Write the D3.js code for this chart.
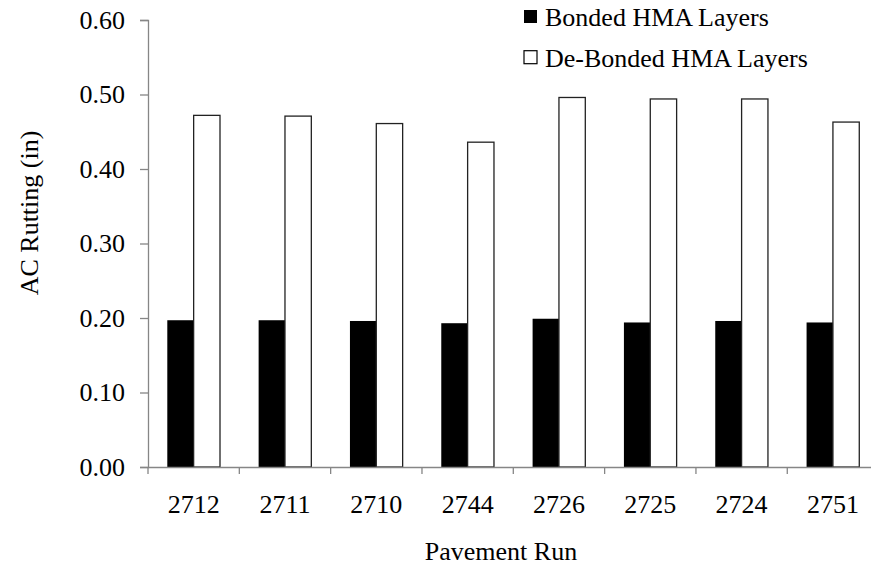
<!DOCTYPE html>
<html><head><meta charset="utf-8">
<script src="https://cdn.jsdelivr.net/npm/d3@7"></script>
<style>body{margin:0;background:#fff}svg text{font-family:'Liberation Serif','Times New Roman',Times,serif !important;fill:#000}</style>
</head><body>
<svg id="chart" width="871" height="569"></svg>
<script>
const categories = ["2712","2711","2710","2744","2726","2725","2724","2751"];
const seriesNames = ["Bonded HMA Layers","De-Bonded HMA Layers"];
const bonded = [0.197,0.197,0.196,0.193,0.199,0.194,0.196,0.194];
const debonded = [0.472,0.471,0.461,0.436,0.496,0.494,0.494,0.463];
const yTicks = [0,0.1,0.2,0.3,0.4,0.5,0.6];

const svg = d3.select("#chart");
const fs = 26;
const ff = "'Liberation Serif','Times New Roman',Times,serif";
const x0 = d3.scaleBand().domain(categories).range([148, 878.6]).padding(0);
const x1 = d3.scaleBand().domain(seriesNames).range([19.3, 72]).padding(0);
const y = d3.scaleLinear().domain([0,0.6]).range([467,20]);
const axisColor = "#868686";

// bars
const data = categories.map((c,i)=>({c, vals:[{s:seriesNames[0],v:bonded[i]},{s:seriesNames[1],v:debonded[i]}]}));
const g = svg.append("g");
const cg = g.selectAll("g.cat").data(data).join("g").attr("transform",d=>`translate(${x0(d.c)},0)`);
cg.selectAll("rect").data(d=>d.vals).join("rect")
  .attr("x",d=>x1(d.s)).attr("width",x1.bandwidth())
  .attr("y",d=>y(d.v)).attr("height",d=>y(0)-y(d.v))
  .attr("fill",d=>d.s===seriesNames[0]?"#000":"#fff")
  .attr("stroke",d=>d.s===seriesNames[0]?"none":"#222")
  .attr("stroke-width",1.3);

// y axis
const ya = svg.append("g").attr("transform","translate(148,0)")
  .call(d3.axisLeft(y).tickValues(yTicks).tickFormat(d3.format(".2f")).tickSizeOuter(0).tickSize(8).tickPadding(15));
ya.attr("font-family",ff).attr("font-size",fs);
ya.select(".domain").attr("stroke",axisColor).attr("stroke-width",1.3);
ya.selectAll(".tick line").attr("stroke",axisColor).attr("stroke-width",1.3);
ya.selectAll(".tick text").attr("fill","#000");

// x axis
const xa = svg.append("g").attr("transform","translate(0,467)")
  .call(d3.axisBottom(x0).tickSize(0).tickPadding(28));
xa.attr("font-family",ff).attr("font-size",fs);
xa.select(".domain").attr("stroke",axisColor).attr("stroke-width",1.3);
xa.selectAll(".tick text").attr("fill","#000");
// category boundary ticks
const bounds = categories.map(c=>x0(c)).concat([x0.range()[1]]);
svg.append("g").selectAll("line").data(bounds).join("line")
  .attr("x1",d=>d).attr("x2",d=>d).attr("y1",467).attr("y2",474)
  .attr("stroke",axisColor).attr("stroke-width",1.3);

// axis titles
svg.append("text").attr("transform","translate(38,213) rotate(-90)").attr("text-anchor","middle")
  .attr("font-family",ff).attr("font-size",fs).text("AC Rutting (in)");
svg.append("text").attr("x",501).attr("y",560).attr("text-anchor","middle")
  .attr("font-family",ff).attr("font-size",fs).text("Pavement Run");

// legend
const lg = svg.append("g").selectAll("g").data(seriesNames).join("g")
  .attr("transform",(d,i)=>`translate(524,${10+i*40.7})`);
lg.append("rect").attr("width",13).attr("height",13)
  .attr("fill",(d,i)=>i===0?"#000":"#fff").attr("stroke",(d,i)=>i===0?"none":"#000").attr("stroke-width",1.2);
lg.append("text").attr("x",21).attr("y",16).attr("font-family",ff).attr("font-size",fs).text(d=>d);
</script>
</body></html>
